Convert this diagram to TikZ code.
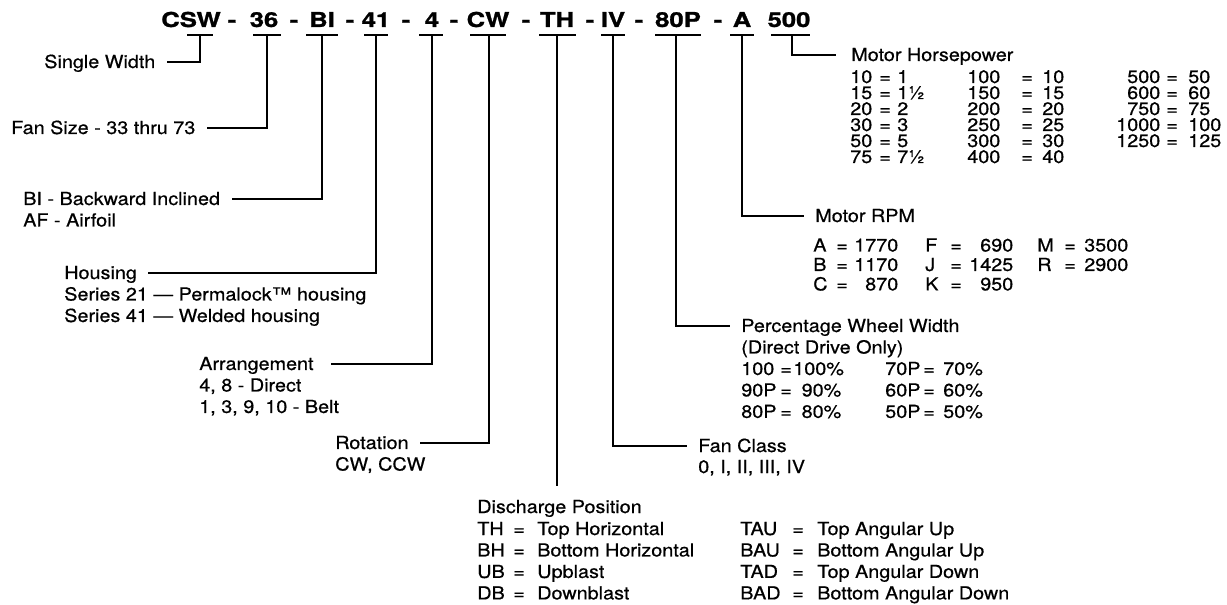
\documentclass[tikz,border=0pt]{standalone}
\usepackage{fontspec}
\usepackage{array}
\setmainfont{TeX Gyre Heros}[FakeStretch=1.1,RawFeature={embolden=0.6}]
\newfontfamily\titlefont{TeX Gyre Heros}[FakeStretch=1.25,RawFeature={embolden=1.2}]
\usetikzlibrary{calc,positioning}
\newlength\pxu
\setlength\pxu{0.75pt}
\newcolumntype{L}[1]{>{\raggedright\arraybackslash}p{#1\pxu}}
\newcolumntype{R}[1]{>{\raggedleft\arraybackslash}p{#1\pxu}}
\newcommand\txtlines[1]{\begin{tabular}[t]{@{}l@{}}#1\end{tabular}}
\tikzset{
    conn/.style={
        line width=1.5pt,
        shorten >=8.5pt
    },
    uline/.style={
        line width=1.5pt
    },
    % code letters on top
    code/.style={
        inner sep=0pt,
        anchor=base,
        font=\titlefont\bfseries\fontsize{15.4pt}{18pt}\selectfont
    },
    head/.style={
        inner sep=0pt,
        anchor=base west,
        text height=9.7pt,
        text depth=0pt,
        font=\fontsize{13.5pt}{16.1pt}\selectfont
    },
    body/.style={
        inner sep=0pt,
        anchor=base west,
        font=\fontsize{13.5pt}{16.1pt}\selectfont
    }
}

\begin{document}
\begin{tikzpicture}[x=0.75pt,y=-0.75pt]
    \useasboundingbox (0,0) rectangle (1227,605);

    % model code
    \node[code] (cCSW) at (191,27) {CSW};
    \node[code] (c36)  at (264,27) {36};
    \node[code] (cBI)  at (322,27) {BI};
    \node[code] (c41)  at (376,27) {41};
    \node[code] (c4)   at (432,27) {4};
    \node[code] (cCW)  at (488,27) {CW};
    \node[code] (cTH)  at (557,27) {TH};
    \node[code] (cIV)  at (613,27) {IV};
    \node[code] (c80P) at (678,27) {80P};
    \node[code] (cA)   at (742,27) {A};
    \node[code] (c500) at (789,27) {500};
    \foreach \x [count=\i] in {232,294,350,406,454,526,590,639,718}
        \node[code] (dash\i) at (\x,27) {-};

    % underlines
    \foreach \l/\r in {187/213,253/281,306/338,364/388,419/443,470/506,539/576,601/625,655/701,730/754,771/810}
        \draw[uline] (\l,35) -- (\r,35);

    \path
     (200,35) coordinate (sCSW)
     (267,35) coordinate (s36)
     (322,35) coordinate (sBI)
     (376,35) coordinate (s41)
     (432,35) coordinate (s4)
     (489,35) coordinate (sCW)
     (557,35) coordinate (sTH)
     (613,35) coordinate (sIV)
     (676,35) coordinate (s80P)
     (742,35) coordinate (sA)
     (792,35) coordinate (s500)
     ;

    % left side labels
    \node[head] (single) at (44,68) {Single Width};
    \node[head] (fansize) at (11,134) {Fan Size - 33 thru 73};
    \node[head] (impeller) at (23,205) {BI - Backward Inclined};
    \node[body] (impellerlist) at (23,226.5) {AF - Airfoil};
    \node[head] (housing) at (64,279) {Housing};
    \node[body] (housinglist) at (64,300.5) {\txtlines{Series 21 — Permalock™ housing\\Series 41 — Welded housing}};
    \node[head] (arrangement) at (199,370) {Arrangement};
    \node[body] (arrangementlist) at (199,391.5) {\txtlines{4, 8 - Direct\\1, 3, 9, 10 - Belt}};
    \node[head] (rotation) at (335,449) {Rotation};
    \node[body] (rotationlist) at (335,470.5) {CW, CCW};

    % discharge
    \node[head] (discharge) at (477,513) {Discharge Position};
    \node[body] (dischargelist) at (477,535)
      {\begin{tabular}[t]{@{}L{36}@{}L{24}@{}L{203}@{}L{52}@{}L{25}@{}l@{}}
        TH & = & Top Horizontal & TAU & = & Top Angular Up\\
        BH & = & Bottom Horizontal & BAU & = & Bottom Angular Up\\
        UB & = & Upblast & TAD & = & Top Angular Down\\
        DB & = & Downblast & BAD & = & Bottom Angular Down
       \end{tabular}};

    % right side labels
    \node[head] (fanclass) at (698,452) {Fan Class};
    \node[body] (fanclasslist) at (698,473) {0, I, II, III, IV};
    \node[head] (wheel) at (741,332) {Percentage Wheel Width};
    \node[body] (wheellist) at (741,353.5)
      {\begin{tabular}[t]{@{}L{39}@{}L{13}@{}R{48}@{\hspace{44\pxu}}L{38}@{}L{20}@{}l@{}}
        \multicolumn{6}{@{}l@{}}{(Direct Drive Only)}\\
        100 & = & 100\% & 70P & = & 70\%\\
        90P & = & 90\% & 60P & = & 60\%\\
        80P & = & 80\% & 50P & = & 50\%
       \end{tabular}};
    \node[head] (rpm) at (815,222) {Motor RPM};
    \node[body,font=\fontsize{13.5pt}{14.6pt}\selectfont] (rpmlist) at (813,251.5)
      {\begin{tabular}[t]{@{}L{23}@{}L{14}@{}R{48}@{\hspace{27\pxu}}L{25}@{}L{14}@{}R{49}@{\hspace{24\pxu}}L{27}@{}L{20}@{}l@{}}
        A & = & 1770 & F & = & 690 & M & = & 3500\\
        B & = & 1170 & J & = & 1425 & R & = & 2900\\
        C & = & 870 & K & = & 950 & & &
       \end{tabular}};
    \node[head] (hp) at (851,61) {Motor Horsepower};
    \node[body,font=\fontsize{13.5pt}{6pt}\selectfont\setlength\extrarowheight{6pt}] (hplist) at (850,83)
      {\begin{tabular}[t]{@{}L{29}@{}L{18}@{}L{70}@{}L{54}@{}L{21}@{}L{64}@{}R{54}@{\hspace{6\pxu}}L{22}@{}l@{}}
        10 & = & 1 & 100 & = & 10 & 500 & = & 50\\
        15 & = & 1½ & 150 & = & 15 & 600 & = & 60\\
        20 & = & 2 & 200 & = & 20 & 750 & = & 75\\
        30 & = & 3 & 250 & = & 25 & 1000 & = & 100\\
        50 & = & 5 & 300 & = & 30 & 1250 & = & 125\\
        75 & = & 7½ & 400 & = & 40 & & &
       \end{tabular}};

    % connectors
    \draw[conn] (sCSW) |- (single.east);
    \draw[conn] (s36) |- (fansize.east);
    \draw[conn] (sBI) |- (impeller.east);
    \draw[conn] (s41) |- (housing.east);
    \draw[conn,shorten >=12.5pt] (s4) |- (arrangement.east);
    \draw[conn] (sCW) |- (rotation.east);
    \draw[conn,shorten >=10.5pt] (sTH) -- (sTH |- discharge.north);
    \draw[conn] (sIV) |- (fanclass.west);
    \draw[conn] (s80P) |- (wheel.west);
    \draw[conn] (sA) |- (rpm.west);
    \draw[conn,shorten >=11pt] (s500) |- (hp.west);
\end{tikzpicture}
\end{document}
